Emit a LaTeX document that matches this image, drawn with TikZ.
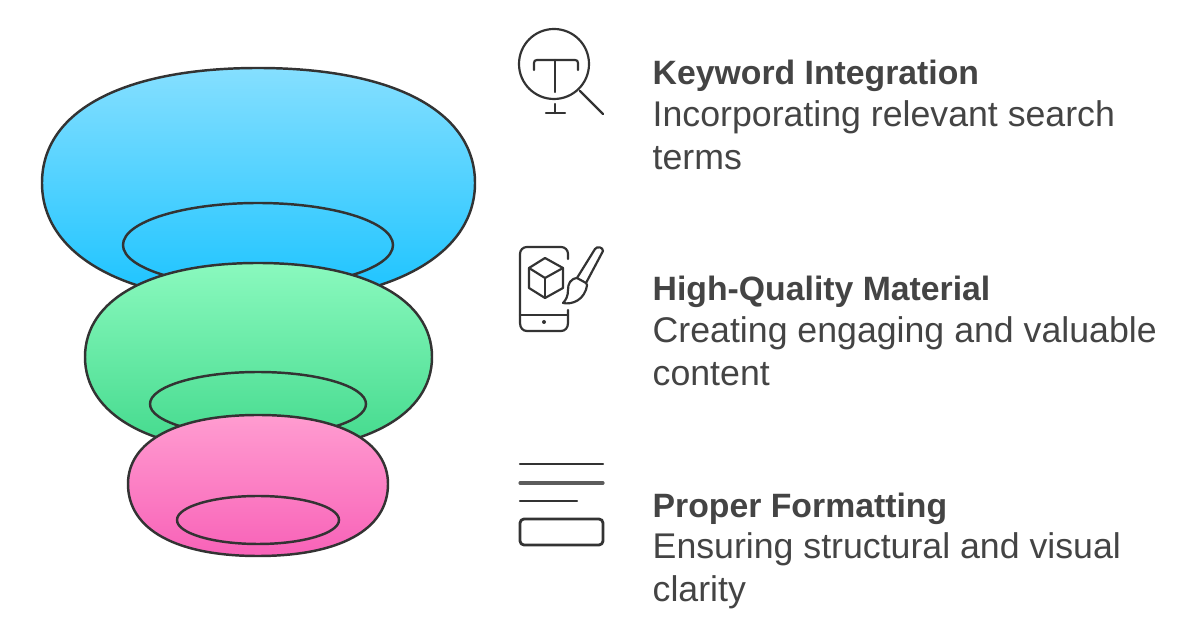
\documentclass[tikz,border=0pt]{standalone}
\usepackage{fontspec}
\setmainfont{Liberation Sans}
\usepackage{tikz}
\usetikzlibrary{positioning}

\definecolor{inkline}{HTML}{333333}
\definecolor{inktext}{HTML}{444444}
\definecolor{blueTop}{HTML}{85DFFF}
\definecolor{blueBot}{HTML}{1AC3FF}
\definecolor{greenTop}{HTML}{8AF9BE}
\definecolor{greenBot}{HTML}{42D98C}
\definecolor{pinkTop}{HTML}{FF9CD0}
\definecolor{pinkBot}{HTML}{F862B8}

\begin{document}
\begin{tikzpicture}[
      x=0.01cm, y=-0.01cm,
      % Define compact styles
      ring/.style={draw=inkline, line width=0.7pt},
      icon/.style={draw=inkline, line width=0.62pt, line cap=round, line join=round},
      title/.style={anchor=base west, inner sep=0pt, text=inktext, font=\fontsize{9.6}{12.1}\selectfont\bfseries},
      desc/.style={anchor=north west, inner sep=0pt, align=left, text=inktext, font=\fontsize{10.15}{12.1}\selectfont}
    ]
    \useasboundingbox (0,0) rectangle (1200,628);

    % Blue layer
    \draw[ring, top color=blueTop, bottom color=blueBot]
      (42,183) .. controls (42,110) and (125,68) .. (258,68)
      .. controls (391,68) and (475,110) .. (475,183)
      .. controls (475,255) and (391,302) .. (258,302)
      .. controls (125,302) and (42,255) .. (42,183) -- cycle;
    \draw[ring] (258,245) ellipse (135 and 42);

    % Green layer
    \draw[ring, top color=greenTop, bottom color=greenBot]
      (85,357) .. controls (85,299) and (151,263) .. (258,263)
      .. controls (365,263) and (432,299) .. (432,357)
      .. controls (432,415) and (365,452) .. (258,452)
      .. controls (151,452) and (85,415) .. (85,357) -- cycle;
    \draw[ring] (258,404) ellipse (108 and 32);

    % Pink layer
    \draw[ring, top color=pinkTop, bottom color=pinkBot]
      (128,484) .. controls (128,441) and (177,415) .. (258,415)
      .. controls (339,415) and (388,441) .. (388,484)
      .. controls (388,530) and (339,556) .. (258,556)
      .. controls (177,556) and (128,530) .. (128,484) -- cycle;
    \draw[ring] (258,520) ellipse (81 and 24);

    % Search icon
    \draw[icon] (554,64) circle (35);
    \draw[icon] (534,70) -- (534,63) .. controls (534,61) and (535,60) .. (537,60) -- (575,60) .. controls (577,60) and (578,61) .. (578,63) -- (578,70);
    \draw[icon] (555,60) -- (555,92);
    \draw[icon] (555,104) -- (555,113);
    \draw[icon] (546,113) -- (565,113);
    \draw[icon] (580,91) -- (603,114);

    % Phone and brush icon
    \draw[icon] (568,259) -- (568,254) .. controls (568,250) and (565,247) .. (561,247) -- (527,247) .. controls (523,247) and (520,250) .. (520,254) -- (520,323) .. controls (520,328) and (523,331) .. (527,331) -- (561,331) .. controls (565,331) and (568,328) .. (568,323) -- (568,310);
    \draw[icon] (520,315) -- (568,315);
    \fill[inkline] (544,322) circle (2);
    \draw[icon] (545,258) -- (563,268) -- (563,288) -- (545,298) -- (529,288) -- (529,268) -- cycle;
    \draw[icon] (529,268) -- (545,278) -- (563,268);
    \draw[icon] (545,278) -- (545,298);
    \draw[icon] (577,278) -- (595,249) .. controls (597,246) and (603,247) .. (603,251) -- (586,283);
    \draw[icon] (577,278) .. controls (570,279) and (568,284) .. (568,290) .. controls (568,296) and (566,300) .. (563,303) .. controls (572,305) and (585,300) .. (587,285) -- (586,283) -- (577,278);

    % Text icon
    \draw[icon] (520,464) -- (603,464);
    \draw[icon, line width=0.9pt, draw=inkline!80] (520,483) -- (603,483);
    \draw[icon] (520,501) -- (577,501);
    \draw[icon, line width=0.8pt, rounded corners=0.04cm] (520,519) rectangle (603,545);

    % Labels
    \node[title] (keyword) at (652,85) {Keyword Integration};
    \node[desc] (keyworddesc) at (652,100) {Incorporating relevant search\\terms};
    \node[title] (quality) at (652,301) {High-Quality Material};
    \node[desc] (qualitydesc) at (652,316) {Creating engaging and valuable\\content};
    \node[title] (format) at (652,518) {Proper Formatting};
    \node[desc] (formatdesc) at (652,532) {Ensuring structural and visual\\clarity};
  \end{tikzpicture}
\end{document}
